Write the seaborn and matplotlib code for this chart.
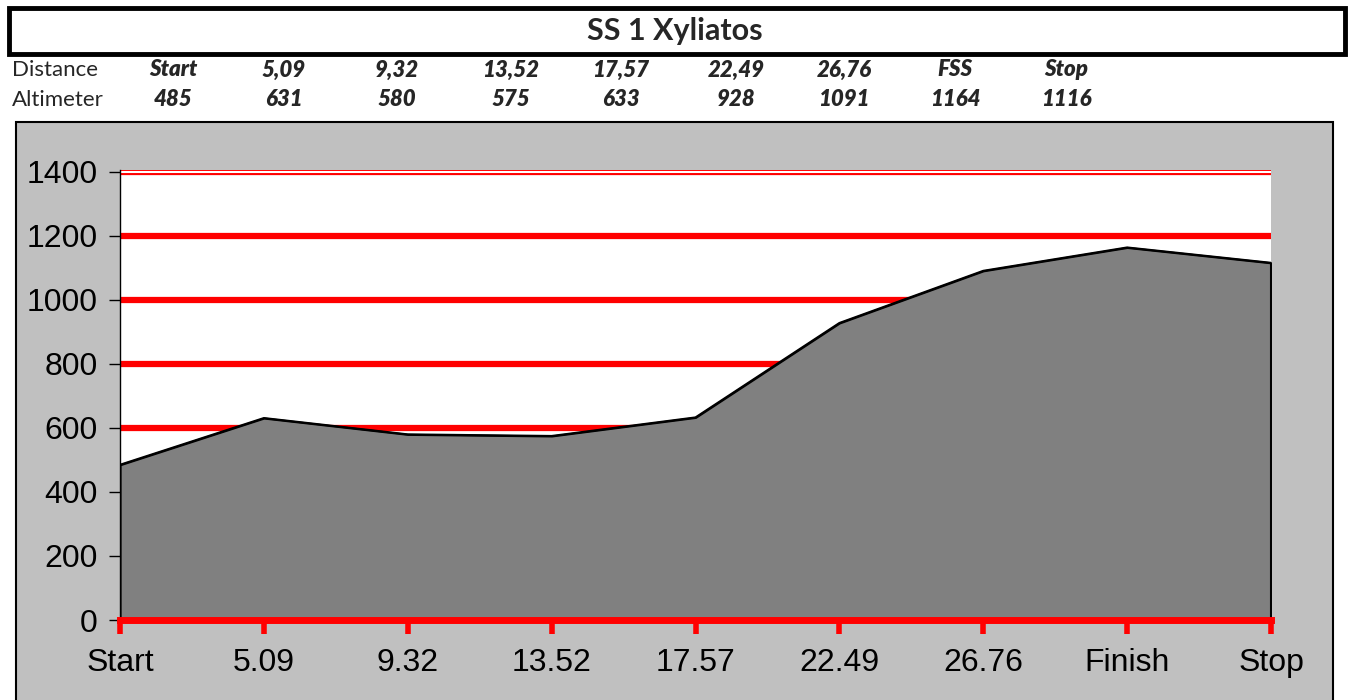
import matplotlib
matplotlib.use("Agg")
import matplotlib.pyplot as plt
import matplotlib.patches as patches
import seaborn as sns
import pandas as pd

# ---- data ----
title = "SS 1 Xyliatos"
x_labels = ["Start", "5.09", "9.32", "13.52", "17.57", "22.49", "26.76", "Finish", "Stop"]
altitudes = [485, 631, 580, 575, 633, 928, 1091, 1164, 1116]
header_distance = ["Start", "5,09", "9,32", "13,52", "17,57", "22,49", "26,76", "FSS", "Stop"]
header_altimeter = ["485", "631", "580", "575", "633", "928", "1091", "1164", "1116"]
y_ticks = [0, 200, 400, 600, 800, 1000, 1200, 1400]

df = pd.DataFrame({"pos": range(len(x_labels)), "alt": altitudes})

sns.set_theme(style="white")
plt.rcParams['font.family'] = ['Liberation Sans', 'DejaVu Sans']

W, H = 1349, 700
fig = plt.figure(figsize=(W / 100, H / 100), dpi=100)
fig.patch.set_facecolor("white")

def fx(px):
    return px / W

def fy(py):
    return 1 - py / H

# title box
fig.patches.append(patches.Rectangle((fx(9), fy(54)), fx(1336), 46 / H, transform=fig.transFigure,
                                     facecolor="white", edgecolor="black", linewidth=3.5, zorder=-2))
fig.text(fx(675), fy(31), title, ha="center", va="center", fontsize=22, fontweight="bold",
         family=["Lato", "DejaVu Sans"])

# header rows
col_x = [173, 284, 397, 511, 621, 736, 844, 955, 1066]
fig.text(fx(12), fy(70), "Distance", ha="left", va="center", fontsize=16, family=["Lato", "DejaVu Sans"])
fig.text(fx(12), fy(100), "Altimeter", ha="left", va="center", fontsize=16, family=["Lato", "DejaVu Sans"])
for cx, d, a in zip(col_x, header_distance, header_altimeter):
    fig.text(fx(cx), fy(70), d, ha="center", va="center", fontsize=16, fontweight="heavy",
             fontstyle="italic", family=["Lato", "DejaVu Sans"])
    fig.text(fx(cx), fy(100), a, ha="center", va="center", fontsize=16, fontweight="heavy",
             fontstyle="italic", family=["Lato", "DejaVu Sans"])

# gray chart area
fig.patches.append(patches.Rectangle((fx(16), fy(704)), fx(1317), 582 / H, transform=fig.transFigure,
                                     facecolor="#C0C0C0", edgecolor="black", linewidth=1.5, zorder=-1))

# plot axes
ymax = 1406
ax = fig.add_axes([fx(120), fy(620), fx(1151), 450 / H])
ax.set_zorder(2)
ax.set_facecolor("white")
ax.set_xlim(0, len(x_labels) - 1)
ax.set_ylim(0, ymax)

for yv in y_ticks[1:-1]:
    ax.axhline(yv, color="red", linewidth=4.5, zorder=1)
ax.axhline(1400, color="red", linewidth=4.5, zorder=1)
ax.axhline(1400, color="white", linewidth=1.5, zorder=1.1)

ax.fill_between(df["pos"], 0, df["alt"], facecolor="#808080", edgecolor="black", linewidth=1.5, zorder=2)
sns.lineplot(data=df, x="pos", y="alt", ax=ax, color="black", linewidth=1.5, zorder=3)
ax.vlines([df["pos"].iloc[0], df["pos"].iloc[-1]], 0, [df["alt"].iloc[0], df["alt"].iloc[-1]],
          color="black", linewidth=1.5, zorder=3)

ax.set_xticks(df["pos"])
ax.set_xticklabels(x_labels)
ax.set_yticks(y_ticks)
ax.set_yticklabels([str(v) for v in y_ticks])
ax.set_xlabel("")
ax.set_ylabel("")

for s in ["top", "right"]:
    ax.spines[s].set_visible(False)
ax.spines["left"].set_color("black")
ax.spines["left"].set_linewidth(1.0)
ax.spines["bottom"].set_color("red")
ax.spines["bottom"].set_linewidth(5)
ax.spines["bottom"].set_zorder(4)

ax.tick_params(axis="x", colors="red", labelcolor="black", length=10, width=4, direction="out",
               labelsize=23, pad=10, bottom=True)
ax.tick_params(axis="y", colors="black", length=8, width=1, direction="out", labelsize=23, pad=8, left=True)

fig.savefig("out.png", dpi=100, facecolor="white")
